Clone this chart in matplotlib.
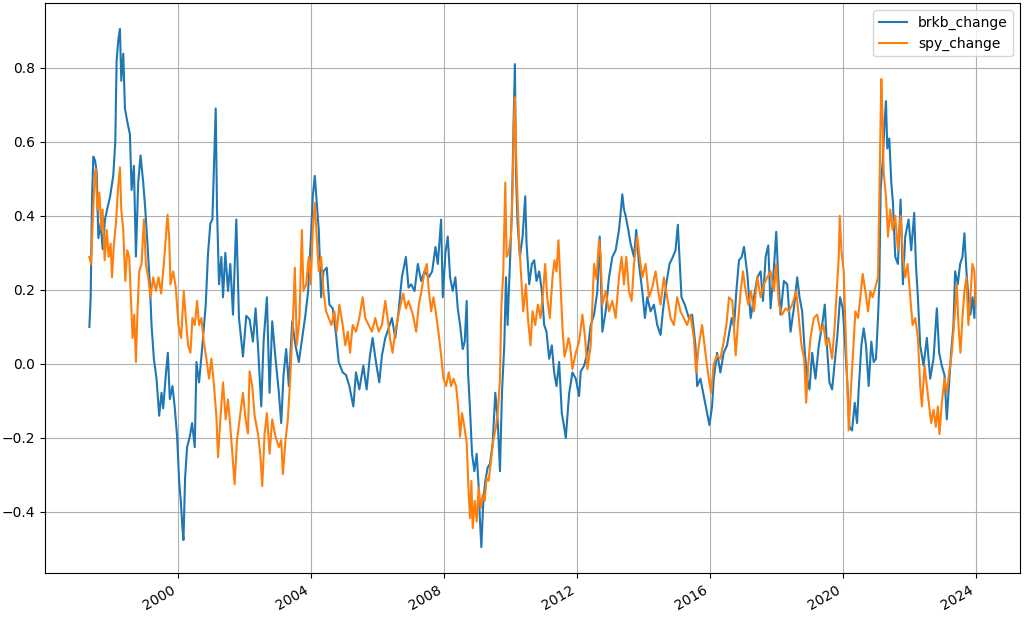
import numpy as np
import pandas as pd
import matplotlib
matplotlib.use("Agg")
import matplotlib.pyplot as plt
import matplotlib.dates as mdates

# ---- DATA (decimal years) ----
brkb_years = [
    1997.34, 1997.38, 1997.42, 1997.46, 1997.51, 1997.56, 1997.61, 1997.68, 1997.74, 1997.81,
    1997.88, 1997.96, 1998.06, 1998.12, 1998.16, 1998.21, 1998.26, 1998.30, 1998.36, 1998.41,
    1998.48, 1998.56, 1998.61, 1998.68, 1998.74, 1998.81, 1998.88, 1998.96, 1999.02, 1999.08,
    1999.16, 1999.21, 1999.28, 1999.36, 1999.44, 1999.51, 1999.56, 1999.64, 1999.70, 1999.76,
    1999.84, 1999.91, 1999.98, 2000.04, 2000.09, 2000.14, 2000.17, 2000.22, 2000.28, 2000.36,
    2000.43, 2000.51, 2000.56, 2000.64, 2000.74, 2000.84, 2000.91, 2000.98, 2001.04, 2001.09,
    2001.14, 2001.18, 2001.24, 2001.31, 2001.36, 2001.43, 2001.51, 2001.58, 2001.66, 2001.76,
    2001.84, 2001.96, 2002.06, 2002.16, 2002.26, 2002.34, 2002.41, 2002.51, 2002.58, 2002.68,
    2002.76, 2002.84, 2002.94, 2003.04, 2003.11, 2003.18, 2003.26, 2003.34, 2003.44, 2003.54,
    2003.64, 2003.74, 2003.84, 2003.92, 2004.00, 2004.06, 2004.12, 2004.18, 2004.24, 2004.31,
    2004.38, 2004.48, 2004.56, 2004.66, 2004.76, 2004.84, 2004.96, 2005.06, 2005.16, 2005.28,
    2005.36, 2005.46, 2005.58, 2005.68, 2005.78, 2005.86, 2005.96, 2006.06, 2006.14, 2006.24,
    2006.34, 2006.44, 2006.54, 2006.64, 2006.74, 2006.86, 2006.94, 2007.02, 2007.12, 2007.22,
    2007.32, 2007.42, 2007.55, 2007.65, 2007.75, 2007.82, 2007.92, 2007.97, 2008.05, 2008.12,
    2008.19, 2008.27, 2008.35, 2008.42, 2008.49, 2008.57, 2008.63, 2008.69, 2008.73, 2008.79,
    2008.85, 2008.92, 2008.99, 2009.05, 2009.09, 2009.13, 2009.19, 2009.25, 2009.32, 2009.39,
    2009.47, 2009.55, 2009.62, 2009.69, 2009.75, 2009.82, 2009.87, 2009.92, 2009.99, 2010.05,
    2010.10, 2010.14, 2010.17, 2010.22, 2010.29, 2010.37, 2010.45, 2010.49, 2010.57, 2010.65,
    2010.72, 2010.79, 2010.87, 2010.95, 2011.02, 2011.09, 2011.17, 2011.25, 2011.32, 2011.39,
    2011.47, 2011.55, 2011.62, 2011.67, 2011.77, 2011.87, 2011.97, 2012.07, 2012.12, 2012.22,
    2012.32, 2012.42, 2012.52, 2012.62, 2012.69, 2012.77, 2012.87, 2012.97, 2013.07, 2013.17,
    2013.27, 2013.33, 2013.37, 2013.42, 2013.47, 2013.55, 2013.62, 2013.72, 2013.79, 2013.87,
    2013.97, 2014.05, 2014.12, 2014.22, 2014.32, 2014.42, 2014.52, 2014.59, 2014.69, 2014.79,
    2014.89, 2014.97, 2015.04, 2015.09, 2015.15, 2015.25, 2015.37, 2015.47, 2015.57, 2015.62,
    2015.72, 2015.82, 2015.92, 2015.99, 2016.07, 2016.12, 2016.22, 2016.32, 2016.42, 2016.52,
    2016.66, 2016.73, 2016.80, 2016.88, 2016.96, 2017.03, 2017.13, 2017.23, 2017.33, 2017.43,
    2017.53, 2017.60, 2017.68, 2017.76, 2017.83, 2017.93, 2018.00, 2018.06, 2018.13, 2018.23,
    2018.33, 2018.43, 2018.53, 2018.63, 2018.70, 2018.78, 2018.86, 2018.93, 2019.00, 2019.08,
    2019.18, 2019.28, 2019.38, 2019.46, 2019.53, 2019.60, 2019.68, 2019.76, 2019.84, 2019.92,
    2020.00, 2020.06, 2020.13, 2020.20, 2020.28, 2020.36, 2020.43, 2020.48, 2020.56, 2020.63,
    2020.70, 2020.78, 2020.86, 2020.93, 2021.00, 2021.06, 2021.10, 2021.14, 2021.20, 2021.26,
    2021.30, 2021.34, 2021.40, 2021.46, 2021.51, 2021.58, 2021.66, 2021.74, 2021.81, 2021.88,
    2021.98, 2022.06, 2022.15, 2022.20, 2022.26, 2022.33, 2022.43, 2022.53, 2022.63, 2022.73,
    2022.83, 2022.90, 2022.98, 2023.06, 2023.13, 2023.18, 2023.26, 2023.33, 2023.38, 2023.46,
    2023.53, 2023.60, 2023.66, 2023.72, 2023.78, 2023.84, 2023.90, 2023.96, 2023.98,
]
brkb_change = [
    0.10, 0.18, 0.45, 0.56, 0.55, 0.52, 0.34, 0.38, 0.31, 0.39,
    0.42, 0.45, 0.51, 0.60, 0.82, 0.875, 0.905, 0.765, 0.838, 0.69,
    0.655, 0.62, 0.47, 0.535, 0.29, 0.49, 0.563, 0.49, 0.42, 0.335,
    0.215, 0.105, 0.014, -0.04, -0.14, -0.078, -0.12, -0.03, 0.03, -0.095,
    -0.06, -0.12, -0.197, -0.316, -0.37, -0.444, -0.476, -0.307, -0.225, -0.197,
    -0.16, -0.225, 0.005, -0.05, 0.05, 0.16, 0.30, 0.38, 0.39, 0.536,
    0.69, 0.417, 0.215, 0.289, 0.18, 0.30, 0.197, 0.27, 0.133, 0.39,
    0.124, 0.02, 0.13, 0.12, 0.06, 0.15, 0.05, -0.115, 0.06, 0.18,
    -0.078, 0.115, 0.014, -0.078, -0.16, -0.03, 0.04, -0.06, 0.115, 0.05,
    0.005, 0.07, 0.133, 0.197, 0.334, 0.453, 0.508, 0.435, 0.362, 0.18,
    0.25, 0.26, 0.16, 0.15, 0.078, 0.005, -0.023, -0.03, -0.06, -0.115,
    -0.023, -0.069, -0.005, -0.069, 0.023, 0.07, 0.005, -0.05, 0.023, 0.07,
    0.096, 0.124, 0.07, 0.142, 0.234, 0.289, 0.206, 0.215, 0.197, 0.27,
    0.224, 0.25, 0.234, 0.25, 0.316, 0.27, 0.39, 0.18, 0.30, 0.344,
    0.234, 0.197, 0.234, 0.15, 0.105, 0.04, 0.06, 0.17, -0.023, -0.124,
    -0.243, -0.29, -0.243, -0.334, -0.426, -0.495, -0.37, -0.316, -0.28, -0.27,
    -0.215, -0.078, -0.15, -0.29, -0.078, 0.05, 0.234, 0.105, 0.27, 0.417,
    0.655, 0.81, 0.518, 0.38, 0.289, 0.344, 0.453, 0.325, 0.215, 0.27,
    0.28, 0.224, 0.25, 0.197, 0.105, 0.087, 0.014, 0.05, -0.023, -0.06,
    0.005, -0.133, -0.17, -0.20, -0.08, -0.023, -0.04, -0.087, -0.02, -0.005,
    0.03, 0.105, 0.133, 0.197, 0.344, 0.087, 0.142, 0.234, 0.289, 0.307,
    0.362, 0.417, 0.458, 0.417, 0.40, 0.362, 0.325, 0.289, 0.362, 0.27,
    0.197, 0.124, 0.18, 0.142, 0.16, 0.105, 0.078, 0.142, 0.215, 0.27,
    0.289, 0.307, 0.376, 0.289, 0.18, 0.16, 0.124, 0.133, 0.05, -0.06,
    -0.04, -0.087, -0.133, -0.165, -0.115, -0.04, 0.03, -0.023, 0.03, 0.05,
    0.124, 0.10, 0.197, 0.28, 0.289, 0.316, 0.243, 0.124, 0.18, 0.234,
    0.25, 0.17, 0.289, 0.32, 0.15, 0.26, 0.357, 0.234, 0.133, 0.224,
    0.215, 0.087, 0.15, 0.234, 0.18, 0.142, 0.03, -0.04, -0.069, 0.03,
    -0.04, 0.05, 0.105, 0.16, 0.04, -0.05, -0.069, 0.005, 0.078, 0.18,
    0.15, 0.07, -0.04, -0.17, -0.18, -0.105, -0.16, -0.069, 0.05, 0.096,
    0.05, -0.06, 0.06, 0.005, 0.014, 0.124, 0.215, 0.472, 0.545, 0.655,
    0.71, 0.582, 0.609, 0.49, 0.435, 0.289, 0.27, 0.444, 0.215, 0.344,
    0.39, 0.307, 0.408, 0.27, 0.18, 0.05, -0.005, 0.07, -0.04, 0.014,
    0.15, 0.03, -0.005, -0.03, -0.15, -0.078, 0.03, 0.105, 0.25, 0.215,
    0.27, 0.289, 0.353, 0.25, 0.18, 0.133, 0.18, 0.124, 0.197,
]

spy_years = [
    1997.34, 1997.39, 1997.44, 1997.49, 1997.53, 1997.58, 1997.64, 1997.70, 1997.74, 1997.80,
    1997.86, 1997.92, 1997.98, 1998.02, 1998.08, 1998.14, 1998.20, 1998.26, 1998.30, 1998.36,
    1998.42, 1998.48, 1998.54, 1998.58, 1998.64, 1998.69, 1998.74, 1998.79, 1998.84, 1998.91,
    1998.98, 1999.04, 1999.11, 1999.18, 1999.26, 1999.34, 1999.42, 1999.50, 1999.58, 1999.64,
    1999.69, 1999.74, 1999.78, 1999.86, 1999.94, 2000.02, 2000.10, 2000.18, 2000.24, 2000.31,
    2000.38, 2000.44, 2000.51, 2000.58, 2000.64, 2000.71, 2000.78, 2000.86, 2000.94, 2001.01,
    2001.08, 2001.16, 2001.21, 2001.28, 2001.36, 2001.44, 2001.51, 2001.58, 2001.64, 2001.71,
    2001.78, 2001.86, 2001.96, 2002.04, 2002.11, 2002.16, 2002.24, 2002.31, 2002.41, 2002.48,
    2002.54, 2002.61, 2002.68, 2002.76, 2002.84, 2002.94, 2003.04, 2003.11, 2003.16, 2003.24,
    2003.31, 2003.38, 2003.46, 2003.52, 2003.58, 2003.66, 2003.73, 2003.78, 2003.86, 2003.94,
    2004.00, 2004.06, 2004.12, 2004.18, 2004.24, 2004.31, 2004.38, 2004.46, 2004.54, 2004.62,
    2004.71, 2004.78, 2004.86, 2004.96, 2005.04, 2005.11, 2005.18, 2005.26, 2005.36, 2005.46,
    2005.56, 2005.64, 2005.74, 2005.84, 2005.94, 2006.04, 2006.14, 2006.24, 2006.31, 2006.38,
    2006.46, 2006.54, 2006.62, 2006.70, 2006.78, 2006.86, 2006.94, 2007.07, 2007.17, 2007.25,
    2007.33, 2007.42, 2007.49, 2007.55, 2007.62, 2007.69, 2007.77, 2007.85, 2007.92, 2007.99,
    2008.07, 2008.15, 2008.22, 2008.29, 2008.37, 2008.43, 2008.49, 2008.55, 2008.62, 2008.69,
    2008.75, 2008.79, 2008.83, 2008.87, 2008.93, 2008.99, 2009.05, 2009.11, 2009.17, 2009.23,
    2009.29, 2009.35, 2009.42, 2009.49, 2009.57, 2009.63, 2009.69, 2009.73, 2009.79, 2009.85,
    2009.89, 2009.95, 2010.02, 2010.07, 2010.11, 2010.14, 2010.17, 2010.21, 2010.27, 2010.33,
    2010.39, 2010.47, 2010.53, 2010.61, 2010.67, 2010.75, 2010.83, 2010.91, 2010.99, 2011.05,
    2011.11, 2011.19, 2011.27, 2011.33, 2011.39, 2011.45, 2011.51, 2011.57, 2011.63, 2011.69,
    2011.75, 2011.80, 2011.87, 2011.97, 2012.07, 2012.17, 2012.25, 2012.32, 2012.42, 2012.52,
    2012.59, 2012.67, 2012.72, 2012.77, 2012.87, 2012.97, 2013.07, 2013.17, 2013.27, 2013.35,
    2013.42, 2013.49, 2013.57, 2013.65, 2013.72, 2013.82, 2013.89, 2013.97, 2014.07, 2014.17,
    2014.27, 2014.37, 2014.45, 2014.52, 2014.62, 2014.72, 2014.82, 2014.92, 2015.02, 2015.12,
    2015.22, 2015.32, 2015.42, 2015.52, 2015.59, 2015.67, 2015.77, 2015.87, 2015.97, 2016.04,
    2016.12, 2016.22, 2016.32, 2016.42, 2016.50, 2016.58, 2016.68, 2016.78, 2016.86, 2016.93,
    2017.00, 2017.08, 2017.16, 2017.24, 2017.33, 2017.43, 2017.53, 2017.63, 2017.73, 2017.83,
    2017.93, 2018.00, 2018.08, 2018.18, 2018.28, 2018.38, 2018.48, 2018.60, 2018.68, 2018.76,
    2018.84, 2018.90, 2018.96, 2019.03, 2019.13, 2019.23, 2019.33, 2019.42, 2019.50, 2019.58,
    2019.68, 2019.76, 2019.83, 2019.88, 2019.91, 2019.96, 2020.03, 2020.08, 2020.14, 2020.18,
    2020.24, 2020.30, 2020.38, 2020.46, 2020.53, 2020.60, 2020.68, 2020.76, 2020.83, 2020.90,
    2020.98, 2021.06, 2021.12, 2021.16, 2021.20, 2021.23, 2021.30, 2021.36, 2021.43, 2021.50,
    2021.58, 2021.66, 2021.74, 2021.81, 2021.88, 2021.95, 2022.03, 2022.10, 2022.18, 2022.26,
    2022.33, 2022.38, 2022.46, 2022.53, 2022.60, 2022.66, 2022.73, 2022.80, 2022.86, 2022.91,
    2022.98, 2023.06, 2023.13, 2023.20, 2023.28, 2023.36, 2023.43, 2023.48, 2023.54, 2023.60,
    2023.66, 2023.72, 2023.78, 2023.84, 2023.90, 2023.96, 2024.00,
]
spy_change = [
    0.289, 0.27, 0.38, 0.49, 0.527, 0.417, 0.463, 0.362, 0.417, 0.28,
    0.362, 0.289, 0.325, 0.234, 0.325, 0.38, 0.472, 0.531, 0.417, 0.362,
    0.224, 0.307, 0.289, 0.197, 0.07, 0.133, 0.005, 0.15, 0.25, 0.27,
    0.39, 0.27, 0.234, 0.18, 0.234, 0.197, 0.234, 0.19, 0.27, 0.344,
    0.403, 0.344, 0.215, 0.25, 0.206, 0.105, 0.07, 0.197, 0.124, 0.05,
    0.03, 0.124, 0.105, 0.17, 0.105, 0.124, 0.06, 0.014, -0.04, 0.014,
    -0.05, -0.14, -0.252, -0.15, -0.05, -0.15, -0.096, -0.17, -0.243, -0.325,
    -0.206, -0.15, -0.078, -0.15, -0.188, -0.02, -0.06, -0.14, -0.188, -0.243,
    -0.33, -0.188, -0.133, -0.243, -0.15, -0.197, -0.225, -0.206, -0.298, -0.206,
    -0.15, -0.04, 0.105, 0.26, 0.05, 0.124, 0.362, 0.197, 0.215, 0.289,
    0.215, 0.362, 0.435, 0.344, 0.25, 0.289, 0.197, 0.142, 0.124, 0.105,
    0.142, 0.087, 0.16, 0.105, 0.05, 0.087, 0.03, 0.105, 0.087, 0.124,
    0.18, 0.124, 0.105, 0.087, 0.124, 0.087, 0.105, 0.17, 0.124, 0.07,
    0.03, 0.087, 0.124, 0.16, 0.19, 0.15, 0.17, 0.133, 0.087, 0.16,
    0.197, 0.25, 0.27, 0.197, 0.142, 0.18, 0.133, 0.078, 0.023, -0.04,
    -0.06, -0.023, -0.06, -0.04, -0.06, -0.115, -0.197, -0.133, -0.17, -0.215,
    -0.353, -0.417, -0.316, -0.444, -0.37, -0.426, -0.334, -0.39, -0.353, -0.37,
    -0.307, -0.316, -0.261, -0.206, -0.17, -0.124, -0.04, 0.15, 0.25, 0.49,
    0.289, 0.30, 0.344, 0.472, 0.655, 0.72, 0.582, 0.472, 0.325, 0.234,
    0.142, 0.215, 0.124, 0.05, 0.142, 0.105, 0.16, 0.124, 0.197, 0.27,
    0.18, 0.124, 0.234, 0.28, 0.25, 0.334, 0.215, 0.10, 0.02, 0.04,
    0.07, 0.05, -0.014, 0.03, 0.06, 0.133, 0.07, -0.014, 0.05, 0.27,
    0.23, 0.334, 0.289, 0.16, 0.197, 0.142, 0.17, 0.124, 0.234, 0.289,
    0.215, 0.289, 0.197, 0.17, 0.27, 0.344, 0.289, 0.234, 0.27, 0.18,
    0.206, 0.25, 0.197, 0.16, 0.234, 0.18, 0.124, 0.105, 0.18, 0.142,
    0.124, 0.105, 0.133, 0.07, -0.023, 0.05, 0.105, 0.03, -0.04, -0.078,
    0.00, 0.023, 0.014, 0.06, 0.105, 0.18, 0.17, 0.023, 0.124, 0.197,
    0.25, 0.197, 0.16, 0.197, 0.142, 0.234, 0.18, 0.215, 0.234, 0.25,
    0.197, 0.27, 0.16, 0.133, 0.15, 0.142, 0.16, 0.197, 0.124, 0.05,
    0.014, -0.105, -0.005, 0.07, 0.124, 0.133, 0.087, 0.105, 0.05, 0.07,
    0.014, 0.105, 0.215, 0.289, 0.40, 0.307, 0.25, 0.105, -0.078, -0.18,
    -0.078, 0.014, 0.142, 0.124, 0.18, 0.243, 0.197, 0.142, 0.197, 0.18,
    0.206, 0.234, 0.563, 0.77, 0.655, 0.518, 0.453, 0.344, 0.417, 0.362,
    0.40, 0.307, 0.40, 0.289, 0.234, 0.27, 0.18, 0.105, 0.124, 0.07,
    -0.06, -0.115, -0.005, -0.06, -0.115, -0.16, -0.124, -0.17, -0.115, -0.19,
    -0.105, -0.04, -0.078, -0.023, 0.03, 0.124, 0.215, 0.105, 0.03, 0.124,
    0.197, 0.234, 0.105, 0.18, 0.27, 0.25, 0.16,
]
# ------------------------------------------------------


def to_dates(years):
    # decimal year -> timestamp
    return pd.to_datetime((np.array(years) - 1970.0) * 365.25, unit="D")


fig = plt.figure(figsize=(10.26, 6.17), dpi=100)
ax = fig.add_axes([0.0439, 0.0713, 0.9503, 0.9238])

ax.plot(to_dates(brkb_years), brkb_change, label="brkb_change")
ax.plot(to_dates(spy_years), spy_change, label="spy_change")

ax.xaxis.set_major_locator(mdates.YearLocator(4))
ax.xaxis.set_major_formatter(mdates.DateFormatter("%Y"))
for lbl in ax.get_xticklabels():
    lbl.set_rotation(30)
    lbl.set_ha("right")

ax.grid(True)
ax.legend(loc="upper right")

fig.savefig("out.png", dpi=100)
